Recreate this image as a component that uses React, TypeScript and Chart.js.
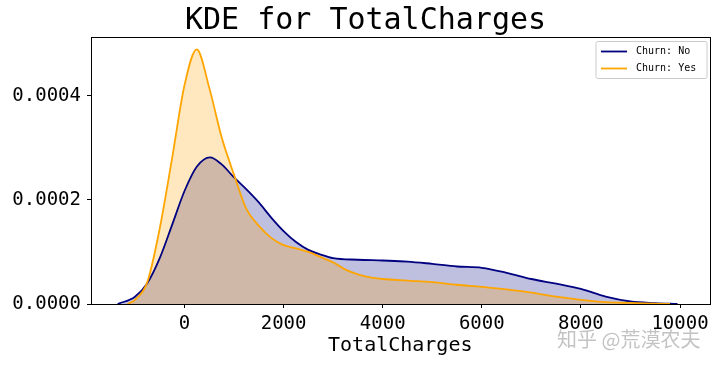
import { useEffect, useRef } from "react";
import { Chart, registerables } from "chart.js";

Chart.register(...registerables);

// ---- data ----
const seriesNames = ["Churn: No", "Churn: Yes"];
const titleText = "KDE for TotalCharges";
const xLabel = "TotalCharges";
const watermarkText = "知乎 @荒漠农夫";

const chargesNo = [-1350, -1000, -750, -500, -250, 0, 250, 515, 750, 1000, 1250, 1500, 1750, 2000, 2250, 2500, 2750, 3000, 3500, 4000, 4500, 5000, 5500, 6000, 6500, 7000, 7500, 8000, 8500, 9000, 9500, 9950];
const densityNo = [0, 0.14e-4, 0.4e-4, 0.88e-4, 1.52e-4, 2.17e-4, 2.64e-4, 2.817e-4, 2.68e-4, 2.43e-4, 2.2e-4, 1.95e-4, 1.66e-4, 1.4e-4, 1.19e-4, 1.04e-4, 0.95e-4, 0.88e-4, 0.85e-4, 0.835e-4, 0.815e-4, 0.77e-4, 0.72e-4, 0.695e-4, 0.6e-4, 0.48e-4, 0.39e-4, 0.29e-4, 0.14e-4, 0.048e-4, 0.017e-4, 0];

const chargesYes = [-1150, -1000, -750, -500, -250, 0, 246, 500, 750, 1000, 1250, 1500, 1750, 2000, 2250, 2500, 2750, 3000, 3250, 3500, 3750, 4000, 4500, 5000, 5500, 6000, 6500, 7000, 7500, 8000, 8500, 9000, 9500, 9800];
const densityYes = [0, 0.08e-4, 0.42e-4, 1.45e-4, 2.8e-4, 4.2e-4, 4.89e-4, 4.15e-4, 3.2e-4, 2.48e-4, 1.82e-4, 1.5e-4, 1.27e-4, 1.13e-4, 1.07e-4, 1.0e-4, 0.9e-4, 0.8e-4, 0.66e-4, 0.57e-4, 0.51e-4, 0.48e-4, 0.45e-4, 0.42e-4, 0.37e-4, 0.33e-4, 0.28e-4, 0.22e-4, 0.14e-4, 0.08e-4, 0.035e-4, 0.02e-4, 0.006e-4, 0];

const xTicks = [0, 2000, 4000, 6000, 8000, 10000];
const yTicks = [0, 0.0002, 0.0004];
const xMin = -1887;
const xMax = 10595;
const yMin = 0;
const yMax = 0.0005127;

const NAVY = "#000080";
const ORANGE = "#FFA500";
const MONO = "'DejaVu Sans Mono', 'Liberation Mono', monospace";

const framePlugin = {
  id: "frame",
  afterDatasetsDraw(chart: any) {
    const { ctx, chartArea } = chart;
    const { left, top, right, bottom } = chartArea;
    ctx.save();
    ctx.strokeStyle = "#000";
    ctx.lineWidth = 1;
    ctx.strokeRect(Math.round(left) + 0.5, Math.round(top) + 0.5, Math.round(right - left), Math.round(bottom - top));
    ctx.restore();
  },
};

const overlayPlugin = {
  id: "overlay",
  afterDraw(chart: any) {
    const { ctx, chartArea } = chart;
    ctx.save();
    // title
    ctx.font = `30px ${MONO}`;
    ctx.fillStyle = "#000";
    ctx.textAlign = "center";
    ctx.textBaseline = "middle";
    ctx.fillText(titleText, 365.5, 21);

    // legend
    const colors = [NAVY, ORANGE];
    const bx = chartArea.right - 113.5;
    const by = chartArea.top + 4.5;
    const bw = 111;
    const bh = 37;
    const r = 2;
    ctx.beginPath();
    ctx.moveTo(bx + r, by);
    ctx.lineTo(bx + bw - r, by);
    ctx.quadraticCurveTo(bx + bw, by, bx + bw, by + r);
    ctx.lineTo(bx + bw, by + bh - r);
    ctx.quadraticCurveTo(bx + bw, by + bh, bx + bw - r, by + bh);
    ctx.lineTo(bx + r, by + bh);
    ctx.quadraticCurveTo(bx, by + bh, bx, by + bh - r);
    ctx.lineTo(bx, by + r);
    ctx.quadraticCurveTo(bx, by, bx + r, by);
    ctx.closePath();
    ctx.fillStyle = "rgba(255,255,255,0.8)";
    ctx.fill();
    ctx.strokeStyle = "#cccccc";
    ctx.lineWidth = 1;
    ctx.stroke();
    ctx.font = `10px ${MONO}`;
    ctx.textBaseline = "middle";
    ctx.textAlign = "left";
    seriesNames.forEach((name, i) => {
      const y = by + 10 + i * 17;
      ctx.strokeStyle = colors[i];
      ctx.lineWidth = 1.8;
      ctx.beginPath();
      ctx.moveTo(bx + 5, y);
      ctx.lineTo(bx + 31, y);
      ctx.stroke();
      ctx.fillStyle = "#000";
      ctx.fillText(name, bx + 40, y);
    });

    // watermark
    ctx.font = `20px 'Noto Sans CJK SC', sans-serif`;
    ctx.fillStyle = "rgba(185,185,185,0.85)";
    ctx.textBaseline = "middle";
    ctx.textAlign = "left";
    ctx.fillText(watermarkText, 557, 339);
    ctx.restore();
  },
};

export default function App() {
  const ref = useRef<HTMLCanvasElement | null>(null);

  useEffect(() => {
    if (!ref.current) return;
    const chart = new Chart(ref.current, {
      type: "line",
      data: {
        datasets: [
          {
            label: seriesNames[1],
            data: chargesYes.map((x, i) => ({ x, y: densityYes[i] })),
            borderColor: ORANGE,
            backgroundColor: "rgba(255,165,0,0.25)",
            borderWidth: 1.8,
            fill: "origin",
            pointRadius: 0,
            cubicInterpolationMode: "monotone",
            order: 0,
          },
          {
            label: seriesNames[0],
            data: chargesNo.map((x, i) => ({ x, y: densityNo[i] })),
            borderColor: NAVY,
            backgroundColor: "rgba(0,0,128,0.25)",
            borderWidth: 1.8,
            fill: "origin",
            pointRadius: 0,
            cubicInterpolationMode: "monotone",
            order: 1,
          },
        ],
      },
      options: {
        animation: false,
        responsive: false,
        devicePixelRatio: 1,
        layout: { padding: { left: 0, right: 10.5, top: 37, bottom: 0 } },
        plugins: {
          legend: { display: false },
          tooltip: { enabled: false },
          filler: { drawTime: "beforeDatasetsDraw" },
          title: { display: false },
        },
        scales: {
          x: {
            type: "linear",
            min: xMin,
            max: xMax,
            border: { display: false },
            grid: {
              display: true,
              drawOnChartArea: false,
              drawTicks: true,
              tickLength: 4,
              tickColor: "#000",
              color: "#000",
            },
            ticks: {
              autoSkip: false,
              maxRotation: 0,
              color: "#000",
              padding: 5,
              font: { family: MONO, size: 19 },
              callback: (v: any) => String(v),
            },
            afterBuildTicks: (scale: any) => {
              scale.ticks = xTicks.map((value) => ({ value }));
            },
            afterFit: (scale: any) => {
              scale.height = 63;
            },
            title: {
              display: true,
              text: xLabel,
              color: "#000",
              font: { family: MONO, size: 20, lineHeight: 1 },
              padding: { top: 0, bottom: 11 },
            },
          },
          y: {
            type: "linear",
            min: yMin,
            max: yMax,
            border: { display: false },
            grid: {
              display: true,
              drawOnChartArea: false,
              drawTicks: true,
              tickLength: 4,
              tickColor: "#000",
              color: "#000",
            },
            ticks: {
              color: "#000",
              padding: 6,
              font: { family: MONO, size: 19 },
              callback: (v: any) => Number(v).toFixed(4),
            },
            afterBuildTicks: (scale: any) => {
              scale.ticks = yTicks.map((value) => ({ value }));
            },
            afterFit: (scale: any) => {
              scale.width = 91;
            },
          },
        },
      },
      plugins: [framePlugin, overlayPlugin],
    });
    return () => chart.destroy();
  }, []);

  return (
    <div style={{ position: "absolute", left: 0, top: 0, width: 720, height: 367, background: "#fff" }}>
      <canvas ref={ref} width={720} height={367} style={{ display: "block" }} />
    </div>
  );
}
